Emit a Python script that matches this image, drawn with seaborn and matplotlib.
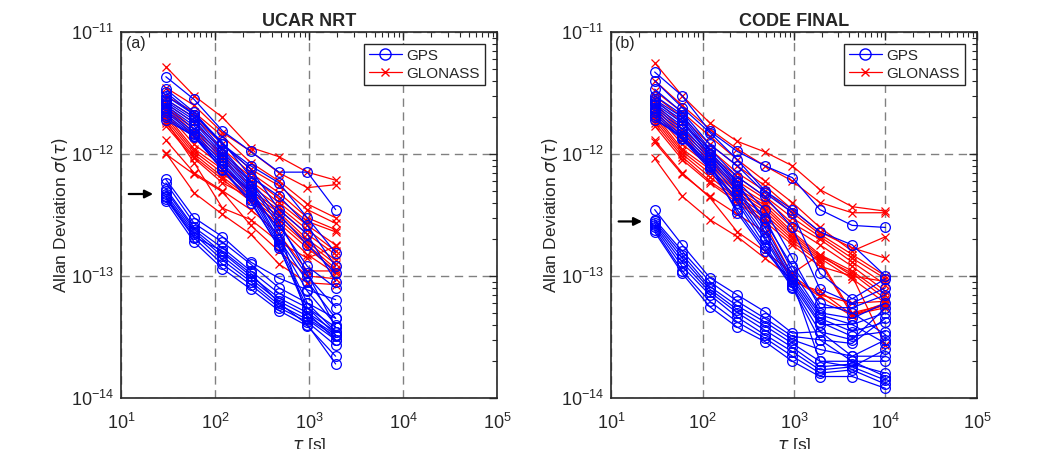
import numpy as np
import pandas as pd
import matplotlib
matplotlib.use("Agg")
import matplotlib.pyplot as plt
import seaborn as sns
from matplotlib.lines import Line2D
from matplotlib.ticker import LogLocator, NullFormatter

# valores en unidades de 1e-13
tau_a = [30, 60, 120, 240, 480, 960, 1920]
tau_b = [30, 60, 120, 240, 480, 960, 1920, 4320, 10000]

gps_a = [
    [6.2, 3.0, 2.1, 1.3, 0.96, 0.77, 0.64],
    [5.8, 2.7, 1.9, 1.25, 0.8, 0.6, 0.45],
    [5.2, 2.5, 1.7, 1.1, 0.72, 0.55, 0.38],
    [5.0, 2.4, 1.55, 1.0, 0.66, 0.5, 0.35],
    [4.7, 2.3, 1.45, 0.95, 0.62, 0.47, 0.33],
    [4.5, 2.2, 1.35, 0.9, 0.58, 0.44, 0.3],
    [4.3, 2.05, 1.25, 0.85, 0.55, 0.42, 0.27],
    [4.1, 1.9, 1.15, 0.78, 0.52, 0.39, 0.22],
    [4.4, 2.1, 1.6, 1.05, 0.6, 0.4, 0.19],
    [43, 28, 15.5, 10.5, 7.1, 7.1, 3.5],
    [34, 22, 12, 8, 5.8, 3.0, 1.55],
    [30, 21, 12.5, 6.5, 4.5, 2.6, 1.2],
    [28, 20, 11, 6, 3.2, 1.8, 1.05],
    [26, 18, 10, 5.5, 2.6, 1.2, 0.8],
    [25, 17, 9.5, 5.2, 2.2, 1.0, 0.55],
    [24, 16, 9, 5.0, 2.0, 0.9, 0.45],
    [23, 15, 8.5, 4.8, 1.9, 0.75, 0.4],
    [22, 14.5, 8, 4.5, 1.8, 0.6, 0.35],
    [21, 14, 7.5, 4.2, 1.7, 0.55, 0.33],
    [20, 13.8, 7.4, 4.0, 1.75, 0.5, 0.3],
    [27, 19, 10.5, 5.8, 2.8, 1.05, 0.38],
    [32, 21, 12, 7.5, 3.5, 2.2, 0.9],
    [19, 14, 8, 4.8, 2.4, 0.45, 0.32],
]
glo_a = [
    [52, 30, 20, 11.3, 9.5, 7.1, 6.1],
    [35, 25, 15, 10.5, 7, 5.3, 5.6],
    [30, 22, 14, 8.5, 6, 3.9, 3.0],
    [28, 20, 12, 7.5, 5.5, 3.5, 2.7],
    [26, 18, 11, 7, 4.8, 3.0, 2.4],
    [25, 16, 10, 6.5, 4.3, 2.8, 2.3],
    [24, 15, 9.5, 6, 4.0, 2.6, 1.8],
    [23, 14, 9, 5.5, 3.7, 2.4, 1.6],
    [22, 12, 8, 5, 3.5, 2.2, 1.5],
    [21, 11, 7.5, 4.8, 3.3, 2.0, 1.35],
    [20, 10.5, 7, 4.5, 3.1, 1.9, 1.25],
    [19, 10, 6.5, 4.3, 2.9, 1.8, 1.15],
    [18, 9.5, 6.2, 4.1, 2.7, 1.7, 1.1],
    [17, 9.2, 5.8, 4.4, 2.5, 1.5, 1.05],
    [13, 7, 5, 3.5, 2.2, 1.1, 1.1],
    [10, 6.8, 4.9, 2.6, 1.6, 1.0, 0.95],
    [10.2, 4.8, 3.2, 2.2, 1.25, 0.88, 0.85],
    [18.5, 8.5, 3.6, 2.9, 1.9, 1.4, 1.75],
]

gps_b = [
    [3.5, 1.8, 0.97, 0.7, 0.51, 0.34, 0.35, 0.3, 0.55],
    [2.9, 1.6, 0.9, 0.62, 0.45, 0.32, 0.3, 0.28, 0.45],
    [2.8, 1.5, 0.82, 0.57, 0.42, 0.3, 0.25, 0.22, 0.3],
    [2.7, 1.4, 0.78, 0.53, 0.39, 0.28, 0.2, 0.2, 0.2],
    [2.6, 1.3, 0.74, 0.5, 0.36, 0.26, 0.18, 0.19, 0.16],
    [2.5, 1.2, 0.7, 0.46, 0.33, 0.24, 0.17, 0.18, 0.14],
    [2.4, 1.1, 0.62, 0.42, 0.31, 0.22, 0.16, 0.17, 0.13],
    [2.3, 1.05, 0.56, 0.38, 0.29, 0.2, 0.15, 0.15, 0.12],
    [47, 30, 15.4, 10.5, 8, 6.4, 3.5, 2.6, 2.5],
    [40, 24, 15, 9, 5, 3.5, 2.3, 1.8, 1.0],
    [34, 22, 12, 8, 4.8, 3.3, 1.05, 0.65, 0.95],
    [30, 21, 11, 6.5, 4.5, 2.5, 0.78, 0.6, 0.8],
    [28, 20, 10.5, 6, 3.5, 1.4, 0.55, 0.55, 0.7],
    [26, 18, 10, 5.5, 3.0, 1.1, 0.5, 0.45, 0.6],
    [25, 17, 9.5, 5.2, 2.5, 1.0, 0.48, 0.4, 0.5],
    [24, 16, 9, 5.0, 2.3, 0.95, 0.45, 0.35, 0.42],
    [23, 15, 8.5, 4.6, 2.1, 0.9, 0.42, 0.32, 0.35],
    [22, 14, 8, 4.2, 2.0, 0.85, 0.4, 0.4, 0.28],
    [21, 13.5, 7.8, 4, 1.8, 0.82, 0.35, 0.22, 0.22],
    [20, 13.2, 7.5, 3.5, 1.7, 0.8, 0.3, 0.2, 0.15],
    [19, 14, 8.2, 3.3, 1.6, 0.9, 0.2, 0.18, 0.25],
    [27, 19, 10, 5.8, 2.8, 1.2, 0.6, 0.5, 0.33],
]
glo_b = [
    [56, 30, 18, 12.7, 10.4, 8, 5.1, 3.7, 3.4],
    [40, 25, 16, 11, 8, 6, 4, 3.3, 3.3],
    [33, 22, 14, 9, 6, 4, 2.5, 1.6, 2.1],
    [30, 20, 12, 8, 5.5, 3.5, 2.3, 1.7, 1.4],
    [28, 18, 11, 7, 5, 3.3, 2.2, 1.5, 1.0],
    [26, 16, 10, 6.5, 4.5, 3, 2.1, 1.4, 0.95],
    [25, 15, 9.5, 6, 4.3, 2.7, 2.0, 1.3, 0.85],
    [24, 14, 9, 5.5, 4.0, 2.5, 1.8, 1.2, 0.75],
    [23, 13, 8.5, 5.2, 3.8, 2.3, 1.5, 1.1, 0.7],
    [22, 12, 8, 5.0, 3.6, 2.2, 1.45, 1.05, 0.65],
    [21, 11, 7.5, 4.8, 3.4, 2.1, 1.4, 0.95, 0.6],
    [20, 10.5, 7, 4.5, 3.2, 2.0, 1.35, 0.5, 0.58],
    [19, 10, 6.5, 4.3, 3.0, 1.9, 1.3, 0.48, 0.55],
    [18, 9.5, 6, 4.2, 2.8, 1.8, 1.2, 1.0, 0.27],
    [17, 9, 5.8, 4.0, 2.7, 1.0, 0.7, 0.6, 0.62],
    [12.5, 6.8, 4.5, 3.2, 2.3, 0.9, 0.75, 0.48, 0.6],
    [9.2, 4.5, 2.9, 2.1, 1.4, 0.95, 0.68, 0.47, 0.58],
    [13, 7, 4.4, 2.3, 1.6, 1.05, 1.5, 1.0, 0.9],
]

titles = ["UCAR NRT", "CODE FINAL"]
etiquetas = ["(a)", "(b)"]
flecha_y = [4.7e-13, 2.8e-13]


def a_tabla(tau, series):
    filas = []
    for i, s in enumerate(series):
        for t, v in zip(tau, s):
            filas.append({"sat": i, "tau": t, "adev": v * 1e-13})
    return pd.DataFrame(filas)


sns.set_style("white")
plt.rcParams["font.family"] = ["Liberation Sans", "DejaVu Sans"]
plt.rcParams["mathtext.fontset"] = "dejavusans"

fig = plt.figure(figsize=(10.55, 4.49), dpi=100)
ax1 = fig.add_axes([121 / 1055, 51 / 449, 376 / 1055, 366 / 449])
ax2 = fig.add_axes([611 / 1055, 51 / 449, 366 / 1055, 366 / 449])

datos = [(tau_a, gps_a, glo_a), (tau_b, gps_b, glo_b)]

for k, ax in enumerate([ax1, ax2]):
    tau, gps, glo = datos[k]
    df_gps = a_tabla(tau, gps)
    df_glo = a_tabla(tau, glo)
    sns.lineplot(data=df_glo, x="tau", y="adev", units="sat", estimator=None,
                 color="red", marker="x", markersize=6, mew=0.9, mec="red",
                 lw=0.9, ax=ax, legend=False)
    sns.lineplot(data=df_gps, x="tau", y="adev", units="sat", estimator=None,
                 color="blue", marker="o", markersize=7, mfc="none", mew=0.9,
                 mec="blue", lw=0.9, ax=ax, legend=False)

    ax.set_xscale("log")
    ax.set_yscale("log")
    ax.set_xlim(10, 1e5)
    ax.set_ylim(1e-14, 1e-11)
    ax.xaxis.set_major_locator(LogLocator(base=10, numticks=10))
    ax.yaxis.set_major_locator(LogLocator(base=10, numticks=10))
    ax.xaxis.set_minor_locator(LogLocator(base=10, subs=np.arange(2, 10), numticks=20))
    ax.yaxis.set_minor_locator(LogLocator(base=10, subs=np.arange(2, 10), numticks=20))
    ax.xaxis.set_minor_formatter(NullFormatter())
    ax.yaxis.set_minor_formatter(NullFormatter())
    ax.grid(True, which="major", color="0.5", ls=(0, (6, 4)), lw=1.0)
    ax.tick_params(which="both", direction="in", top=True, right=True,
                   color="0.15", labelsize=13, labelcolor="0.15")
    ax.tick_params(which="major", length=6, width=1.0, pad=5)
    ax.tick_params(which="minor", length=3.5, width=0.8)
    ax.tick_params(axis="x", which="major", pad=11)
    for sp in ax.spines.values():
        sp.set_color("0.15")
        sp.set_linewidth(1.2)

    ax.set_xlabel(r"$\tau$ [s]", fontsize=12.5, color="0.15", labelpad=2)
    ax.set_ylabel(r"Allan Deviation $\sigma(\tau)$", fontsize=12.5, color="0.15", labelpad=1)
    ax.set_title(titles[k], fontsize=13, fontweight="bold", pad=4)
    ax.text(0.012, 0.988, etiquetas[k], transform=ax.transAxes, ha="left",
            va="top", fontsize=11.5)

    ax.annotate("", xy=(23.5, flecha_y[k]), xytext=(11.3, flecha_y[k]),
                arrowprops=dict(arrowstyle="-|>", color="k", lw=1.6,
                                mutation_scale=12))

    handles = [
        Line2D([], [], color="blue", marker="o", mfc="none", mec="blue",
               markersize=8, lw=0.9, label="GPS"),
        Line2D([], [], color="red", marker="x", mec="red", markersize=6,
               lw=0.9, label="GLONASS"),
    ]
    leg = ax.legend(handles=handles, loc="upper right", fontsize=11,
                    frameon=True, fancybox=False, framealpha=1,
                    edgecolor="0.15", borderaxespad=0.8, handlelength=2.2,
                    handletextpad=0.3, borderpad=0.3, labelspacing=0.25)
    leg.get_frame().set_linewidth(1.0)

fig.savefig("out.png", dpi=100)
